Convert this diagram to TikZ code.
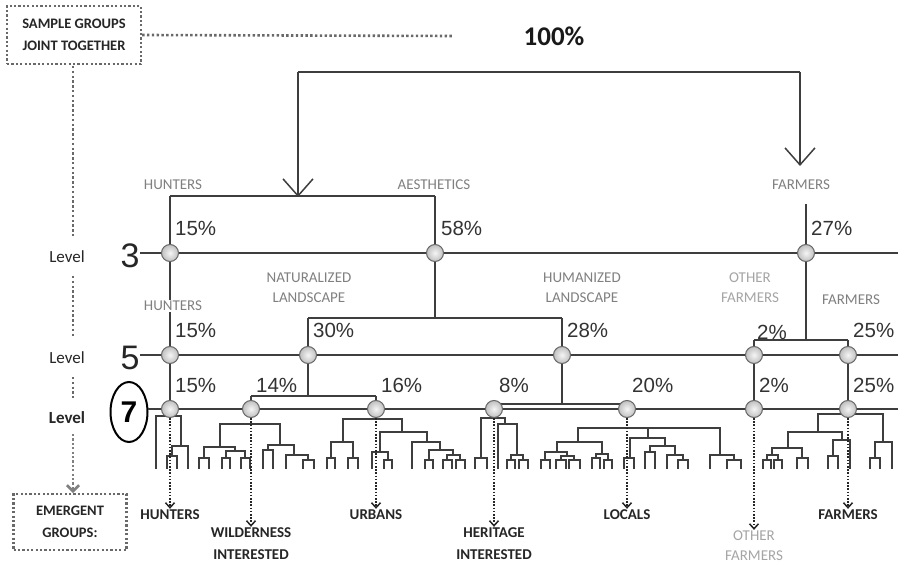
\documentclass[tikz,border=0pt]{standalone}
\usepackage{fontspec}
\setmainfont{Carlito}
\newfontfamily\pctfont{Liberation Sans}
\usetikzlibrary{arrows.meta,shapes.geometric}
\definecolor{ln}{RGB}{62,62,62}
\definecolor{lbl}{RGB}{128,128,128}
\definecolor{lbllight}{RGB}{165,165,165}
\definecolor{dotc}{RGB}{105,105,105}
\newcommand\dgm[5]{\draw[dl] (#1,#2) -- (#1,#5) -- (#3,#5) -- (#3,#4);}
\begin{document}
\begin{tikzpicture}[x=1pt,y=-1pt,
  ln/.style={draw=ln, line width=1.7pt},
  dl/.style={draw=ln, line width=1.3pt, line cap=rect},
  dots/.style={draw=dotc, line width=2.6pt, dash pattern=on 2.4pt off 2.4pt},
  darr/.style={draw=black!85, line width=1.8pt, dash pattern=on 1.6pt off 1.6pt, -{Straight Barb[length=5pt,width=9pt,line width=1.5pt]}},
  ball/.style={circle, minimum size=17pt, inner sep=0pt, draw=black!60, line width=1pt, shading=radial, inner color=gray!8, outer color=gray!50},
  pct/.style={font=\pctfont\fontsize{20.5}{22}\selectfont, text=black!80, anchor=west, inner sep=0pt},
  glab/.style={font=\fontsize{15}{20}\selectfont, text=lbl, align=center, inner sep=1pt},
  llab/.style={font=\fontsize{15}{20}\selectfont, text=lbllight, align=center, inner sep=1pt},
  blab/.style={font=\bfseries\fontsize{15}{22}\selectfont, text=black!85, align=center, inner sep=1pt},
  lvl/.style={font=\fontsize{17}{20}\selectfont, text=black!85, inner sep=0pt},
  lnum/.style={font=\pctfont\fontsize{34}{36}\selectfont, text=black!85, inner sep=0pt},
  dbox/.style={draw=dotc, line width=2.4pt, dash pattern=on 2.2pt off 2.2pt, align=center, inner sep=0pt},
  bigarr/.style={ln, -{Straight Barb[length=17pt,width=30pt,line width=1.5pt]}}
]
\useasboundingbox[fill=white] (0,0) rectangle (898,567);

% ---------- left column ----------
\node[dbox, minimum width=134pt, minimum height=58pt, font=\bfseries\fontsize{14.5}{22}\selectfont, text=black!85] (sg) at (74,35) {SAMPLE GROUPS\\JOINT TOGETHER};
\node[dbox, minimum width=113pt, minimum height=56pt, font=\bfseries\fontsize{14.5}{22}\selectfont, text=black!85] (eg) at (70,522) {EMERGENT\\GROUPS:};
\node[font=\bfseries\fontsize{27}{30}\selectfont, text=black!90] (hundred) at (554,36) {100\%};
\coordinate (dotend) at (452,36);
\draw[dots] (sg.east) -- (dotend);

\node[lvl] (lv3) at (67,257) {Level};
\node[lvl] (lv5) at (67,358) {Level};
\node[lvl, font=\bfseries\fontsize{17}{20}\selectfont] (lv7) at (67,418) {Level};
\node[lnum] (num3) at (130,256) {3};
\node[lnum] (num5) at (130,358) {5};
\node[ellipse, draw=black, line width=2pt, minimum width=37pt, minimum height=60pt, inner sep=0pt, font=\pctfont\bfseries\fontsize{30}{32}\selectfont] (num7) at (129,412) {7};

\coordinate (d1a) at (73,66); \coordinate (d1b) at (73,236);
\coordinate (d2a) at (73,276); \coordinate (d2b) at (73,336);
\coordinate (d3a) at (73,377); \coordinate (d3b) at (73,398);
\coordinate (d4a) at (73,434); \coordinate (d4b) at (73,493);
\draw[dots] (d1a) -- (d1b);
\draw[dots] (d2a) -- (d2b);
\draw[dots] (d3a) -- (d3b);
\draw[draw=lbl, line width=2.6pt, dash pattern=on 2.2pt off 2.2pt, -{Straight Barb[length=6pt,width=12pt,line width=2.6pt]}] (d4a) -- (d4b);

% ---------- top ----------
\coordinate (tl) at (298,72);
\coordinate (tr) at (800,72);
\coordinate (tlb) at (298,197);
\coordinate (trb) at (800,166);
\draw[ln] (tl) -- (tr);
\draw[bigarr] (tl) -- (tlb);
\draw[bigarr] (tr) -- (trb);

% ---------- level lines ----------
\coordinate (l3s) at (140,253); \coordinate (l3e) at (898,253);
\coordinate (l5s) at (140,355); \coordinate (l5e) at (898,355);
\coordinate (l7s) at (148,409); \coordinate (l7e) at (898,409);
\draw[ln] (l3s) -- (l3e);
\draw[ln] (l5s) -- (l5e);
\draw[ln] (l7s) -- (l7e);

% ---------- tree between levels ----------
\coordinate (ha1) at (170,196); \coordinate (ha2) at (435,196);
\coordinate (fm1) at (806,204);
\coordinate (nl1) at (435,318); \coordinate (nl2) at (308,318); \coordinate (nl3) at (562,318);
\coordinate (ff1) at (806,340); \coordinate (ff2) at (754,340); \coordinate (ff3) at (848,340);
\coordinate (uw1) at (308,396); \coordinate (uw2) at (251,396); \coordinate (uw3) at (376,396);
\coordinate (hl1) at (562,404); \coordinate (hl2) at (494,404); \coordinate (hl3) at (627,404);

\draw[ln] (ha1) -- (ha2);
\draw[ln] (ha1) -- (170,253);
\draw[ln] (ha2) -- (435,253);
\draw[ln] (fm1) -- (806,253);
\draw[ln] (170,253) -- (170,355);
\draw[ln] (435,253) -- (nl1);
\draw[ln] (nl2) -- (nl3);
\draw[ln] (nl2) -- (308,355);
\draw[ln] (nl3) -- (562,355);
\draw[ln] (806,253) -- (ff1);
\draw[ln] (ff2) -- (ff3);
\draw[ln] (ff2) -- (754,355);
\draw[ln] (ff3) -- (848,355);
\draw[ln] (170,355) -- (170,409);
\draw[ln] (308,355) -- (uw1);
\draw[ln] (uw2) -- (uw3);
\draw[ln] (uw2) -- (251,409);
\draw[ln] (uw3) -- (376,409);
\draw[ln] (562,355) -- (hl1);
\draw[ln] (hl2) -- (hl3);
\draw[ln] (754,355) -- (754,409);
\draw[ln] (848,355) -- (848,409);

% ---------- dendrogram ----------
% hunters
\dgm{167}{468}{177}{468}{456}
\dgm{172}{456}{188}{468}{446}
\dgm{156}{468}{181}{446}{416}
% wilderness
\dgm{199}{468}{209}{468}{458}
\dgm{222}{468}{230}{468}{458}
\dgm{241}{468}{250}{468}{458}
\dgm{226}{458}{245}{458}{451}
\dgm{204}{458}{235}{451}{447}
\dgm{263}{468}{273}{468}{450}
\dgm{303}{468}{314}{468}{460}
\dgm{286}{468}{308}{460}{455}
\dgm{268}{450}{294}{455}{445}
\dgm{220}{447}{280}{445}{424}
% urbans
\dgm{327}{468}{335}{468}{458}
\dgm{348}{468}{358}{468}{458}
\dgm{331}{458}{353}{458}{442}
\dgm{384}{468}{392}{468}{460}
\dgm{372}{468}{388}{460}{452}
\dgm{425}{468}{433}{468}{460}
\dgm{443}{468}{452}{468}{460}
\dgm{456}{468}{465}{468}{460}
\dgm{447}{460}{460}{460}{455}
\dgm{429}{460}{453}{455}{450}
\dgm{412}{468}{440}{450}{442}
\dgm{380}{452}{427}{442}{432}
\dgm{343}{442}{402}{432}{419}
% heritage
\dgm{475}{468}{487}{468}{458}
\dgm{507}{468}{515}{468}{460}
\dgm{519}{468}{528}{468}{460}
\dgm{511}{460}{523}{460}{455}
\dgm{498}{468}{517}{455}{424}
\dgm{481}{458}{505}{424}{418}
% locals
\dgm{541}{468}{550}{468}{460}
\dgm{556}{468}{566}{468}{460}
\dgm{569}{468}{580}{468}{460}
\dgm{561}{460}{574}{460}{456}
\dgm{545}{460}{567}{456}{452}
\dgm{592}{468}{600}{468}{458}
\dgm{604}{468}{612}{468}{460}
\dgm{596}{458}{608}{460}{454}
\dgm{557}{452}{602}{454}{442}
\dgm{624}{468}{634}{468}{458}
\dgm{645}{468}{655}{468}{452}
\dgm{678}{468}{688}{468}{460}
\dgm{667}{468}{683}{460}{455}
\dgm{650}{452}{675}{455}{446}
\dgm{630}{458}{665}{446}{438}
\dgm{727}{468}{741}{468}{460}
\dgm{710}{468}{734}{460}{455}
\dgm{578}{442}{720}{455}{428}
\draw[dl] (648,428) -- (648,438);
% farmers
\dgm{763}{468}{771}{468}{460}
\dgm{774}{468}{782}{468}{460}
\dgm{767}{460}{778}{460}{455}
\dgm{797}{468}{808}{468}{458}
\dgm{772}{455}{802}{458}{448}
\dgm{828}{468}{838}{468}{456}
\dgm{833}{456}{850}{468}{440}
\dgm{788}{448}{842}{440}{432}
\dgm{870}{468}{880}{468}{458}
\dgm{875}{458}{892}{468}{442}
\dgm{818}{432}{883}{442}{414}

% ---------- balls ----------
\node[ball] (n3a) at (170,253) {};
\node[ball] (n3b) at (435,253) {};
\node[ball] (n3c) at (806,253) {};
\node[ball] (n5a) at (170,355) {};
\node[ball] (n5b) at (308,355) {};
\node[ball] (n5c) at (562,355) {};
\node[ball] (n5d) at (754,355) {};
\node[ball] (n5e) at (848,355) {};
\node[ball] (n7a) at (170,409) {};
\node[ball] (n7b) at (251,409) {};
\node[ball] (n7c) at (376,409) {};
\node[ball] (n7d) at (494,409) {};
\node[ball] (n7e) at (627,409) {};
\node[ball] (n7f) at (754,409) {};
\node[ball] (n7g) at (848,409) {};

% ---------- group labels ----------
\node[glab] (lhunt3) at (173,185) {HUNTERS};
\node[glab] (laest) at (434,185) {AESTHETICS};
\node[glab] (lfarm3) at (801,185) {FARMERS};
\node[glab, fill=white] (lhunt5) at (173,306) {HUNTERS};
\node[glab] (lnat) at (309,288) {NATURALIZED\\LANDSCAPE};
\node[glab] (lhum) at (582,288) {HUMANIZED\\LANDSCAPE};
\node[llab] (loth) at (750,288) {OTHER\\FARMERS};
\node[glab] (lfarm5) at (851,300) {FARMERS};

% ---------- percentages ----------
\node[pct] (p3a) at (175,228) {15\%};
\node[pct] (p3b) at (441,228) {58\%};
\node[pct] (p3c) at (811,228) {27\%};
\node[pct] (p5a) at (175,330) {15\%};
\node[pct] (p5b) at (313,330) {30\%};
\node[pct] (p5c) at (567,330) {28\%};
\node[pct] (p5d) at (757,332) {2\%};
\node[pct] (p5e) at (853,330) {25\%};
\node[pct] (p7a) at (175,385) {15\%};
\node[pct] (p7b) at (256,385) {14\%};
\node[pct] (p7c) at (381,385) {16\%};
\node[pct] (p7d) at (499,385) {8\%};
\node[pct] (p7e) at (632,385) {20\%};
\node[pct] (p7f) at (759,385) {2\%};
\node[pct] (p7g) at (853,385) {25\%};

% ---------- emergent groups ----------
\node[blab] (ehunt) at (170,515) {HUNTERS};
\node[blab] (ewild) at (251,544) {WILDERNESS\\INTERESTED};
\node[blab] (eurb) at (376,515) {URBANS};
\node[blab] (eher) at (494,544) {HERITAGE\\INTERESTED};
\node[blab] (eloc) at (627,515) {LOCALS};
\node[llab] (eoth) at (754,546) {OTHER\\FARMERS};
\node[blab] (efarm) at (848,515) {FARMERS};

\draw[darr] (n7a.south) -- (ehunt.north);
\draw[darr] (n7b.south) -- (ewild.north);
\draw[darr] (n7c.south) -- (eurb.north);
\draw[darr] (n7d.south) -- (eher.north);
\draw[darr] (n7e.south) -- (eloc.north);
\draw[darr] (n7f.south) -- (eoth.north);
\draw[darr] (n7g.south) -- (efarm.north);
\end{tikzpicture}
\end{document}
